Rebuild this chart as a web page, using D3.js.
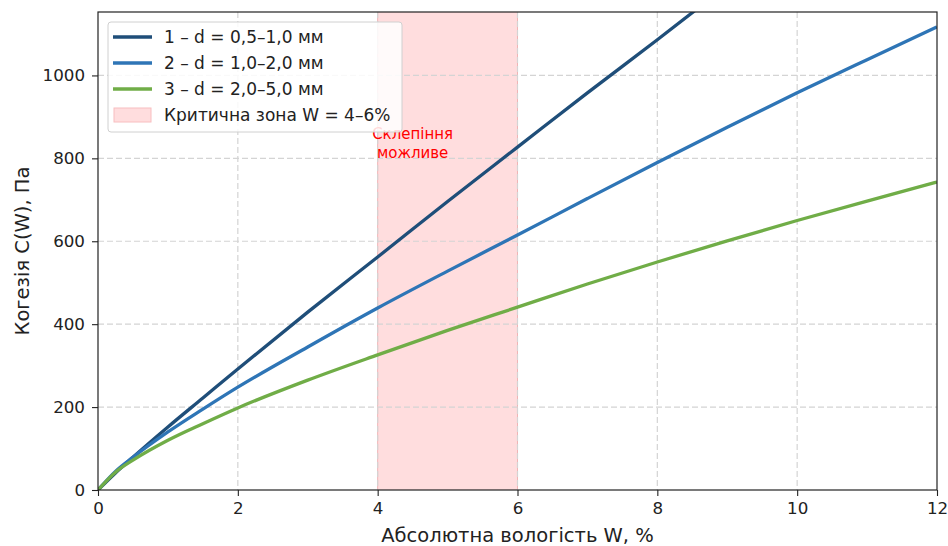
<!DOCTYPE html>
<html>
<head>
<meta charset="utf-8">
<script src="https://cdn.jsdelivr.net/npm/d3@7"></script>
<style>
body{margin:0;background:#fff;}
text{font-family:"DejaVu Sans",sans-serif;}
</style>
</head>
<body>
<svg id="chart" width="948" height="546"></svg>
<script>
// moisture W, %
var wValues = [0, 0.25, 0.5, 1, 1.5, 2, 3, 4, 5, 6, 7, 8, 9, 10, 11, 12];
// cohesion, Pa
var series1 = [0, 41, 79, 152, 222, 292, 429, 562, 696, 827, 958, 1086, 1217, null, null, null];
var series2 = [0, 45, 79, 140, 195, 248, 345, 439, 528, 615, 703, 790, 875, 958, 1038, 1117];
var series3 = [0, 43, 72, 120, 160, 198, 265, 326, 385, 441, 497, 550, 601, 650, 697, 743];
var seriesNames = ["1 – d = 0,5–1,0 мм", "2 – d = 1,0–2,0 мм", "3 – d = 2,0–5,0 мм"];
var seriesColors = ["#1f4e79", "#2e75b6", "#70ad47"];
var zone = [4, 6];
var zoneLabel = "Критична зона W = 4–6%";
var xTicks = [0, 2, 4, 6, 8, 10, 12];
var yTicks = [0, 200, 400, 600, 800, 1000];

var svg = d3.select("#chart");
var m = {left:98, top:12, right:937, bottom:490};
var x = d3.scaleLinear().domain([0,12]).range([m.left, m.right]);
var y = d3.scaleLinear().domain([0,1153]).range([m.bottom, m.top]);

svg.append("defs").append("clipPath").attr("id","clip")
	.append("rect").attr("x",m.left).attr("y",m.top)
	.attr("width",m.right-m.left).attr("height",m.bottom-m.top);

// critical zone
svg.append("rect")
	.attr("x",x(zone[0])).attr("y",m.top)
	.attr("width",x(zone[1])-x(zone[0])).attr("height",m.bottom-m.top)
	.style("fill","rgb(255,221,222)");
svg.selectAll(".zedge").data(zone).enter().append("line")
	.attr("x1",function(d){return x(d);}).attr("x2",function(d){return x(d);})
	.attr("y1",m.top).attr("y2",m.bottom)
	.style("stroke","rgb(240,180,182)").style("stroke-width",1);

// grid
var grid = svg.append("g");
grid.selectAll(".gx").data(xTicks.slice(1,-1)).enter().append("line")
	.attr("x1",function(d){return x(d);}).attr("x2",function(d){return x(d);})
	.attr("y1",m.top).attr("y2",m.bottom);
grid.selectAll(".gy").data(yTicks.slice(1)).enter().append("line")
	.attr("y1",function(d){return y(d);}).attr("y2",function(d){return y(d);})
	.attr("x1",m.left).attr("x2",m.right);
grid.selectAll("line").style("stroke","#d4d4d4").style("stroke-width",1.2)
	.attr("stroke-dasharray","6,3");

// curves
var allSeries = [series1, series2, series3];
var line = d3.line()
	.defined(function(d){return d[1] !== null;})
	.x(function(d){return x(d[0]);})
	.y(function(d){return y(d[1]);})
	.curve(d3.curveMonotoneX);
var curves = svg.append("g").attr("clip-path","url(#clip)");
allSeries.forEach(function(s,i){
	curves.append("path")
		.datum(wValues.map(function(w,j){return [w, s[j]];}))
		.attr("d",line)
		.style("fill","none")
		.style("stroke",seriesColors[i])
		.style("stroke-width",3.3);
});

// annotation
var ann = svg.append("text")
	.attr("x",x(4.5)).attr("text-anchor","middle")
	.style("fill","red").style("font-size","15px");
ann.append("tspan").attr("x",x(4.5)).attr("y",139).text("Склепіння");
ann.append("tspan").attr("x",x(4.5)).attr("y",158).text("можливе");

// axes
var xAxis = svg.append("g").attr("transform","translate(0,"+m.bottom+")")
	.call(d3.axisBottom(x).tickValues(xTicks).tickSize(6).tickPadding(6).tickFormat(d3.format("d")));
var yAxis = svg.append("g").attr("transform","translate("+m.left+",0)")
	.call(d3.axisLeft(y).tickValues(yTicks).tickSize(6).tickPadding(7).tickFormat(d3.format("d")));
[xAxis, yAxis].forEach(function(a){
	a.select(".domain").remove();
	a.selectAll("text").style("font-size","16.7px").style("fill","#222").style("font-family","DejaVu Sans");
	a.selectAll(".tick line").style("stroke","#222").style("stroke-width",1.1);
});
svg.append("rect")
	.attr("x",m.left).attr("y",m.top)
	.attr("width",m.right-m.left).attr("height",m.bottom-m.top)
	.style("fill","none").style("stroke","#222").style("stroke-width",1.2);

svg.append("text")
	.attr("x",(m.left+m.right)/2).attr("y",542)
	.attr("text-anchor","middle").style("font-size","19.5px").style("fill","#222")
	.text("Абсолютна вологість W, %");
svg.append("text")
	.attr("transform","translate(29,"+((m.top+m.bottom)/2)+") rotate(-90)")
	.attr("text-anchor","middle").style("font-size","19.5px").style("fill","#222")
	.text("Когезія C(W), Па");

// legend
var lg = svg.append("g");
lg.append("rect")
	.attr("x",108).attr("y",22).attr("width",294).attr("height",110).attr("rx",3)
	.style("fill","rgba(255,255,255,0.85)").style("stroke","#d0d0d0");
seriesNames.forEach(function(n,i){
	var yy = 37 + i*26;
	lg.append("line").attr("x1",113).attr("x2",152).attr("y1",yy).attr("y2",yy)
		.style("stroke",seriesColors[i]).style("stroke-width",3.3);
	lg.append("text").attr("x",164).attr("y",yy+6).style("font-size","17px").style("fill","#222").text(n);
});
lg.append("rect").attr("x",114).attr("y",108).attr("width",37).attr("height",14)
	.style("fill","rgb(255,221,222)").style("stroke","rgb(248,190,192)");
lg.append("text").attr("x",164).attr("y",121).style("font-size","17px").style("fill","#222").text(zoneLabel);
</script>
</body>
</html>
